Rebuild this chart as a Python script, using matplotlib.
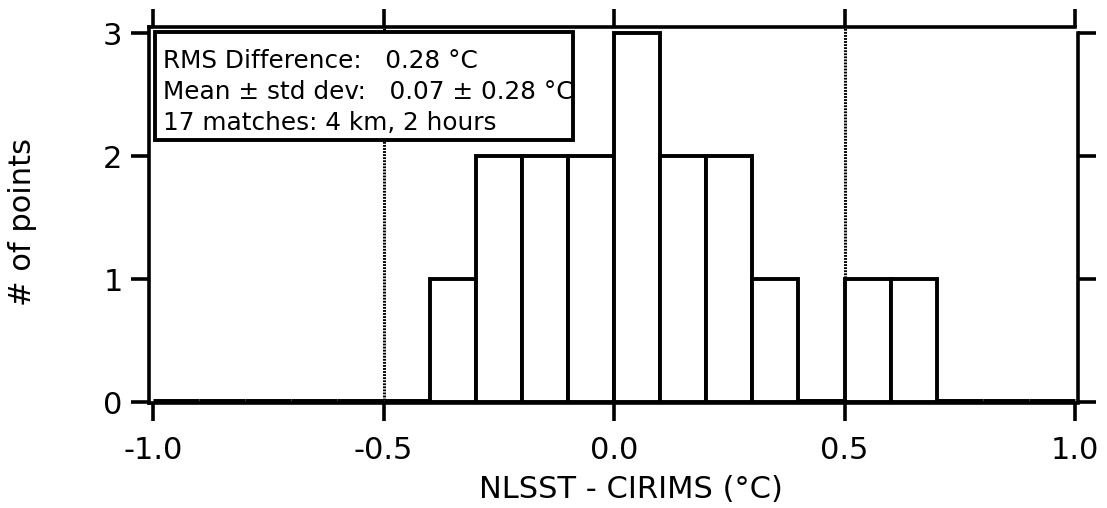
import numpy as np
import matplotlib.pyplot as plt
from matplotlib.patches import Rectangle

# histogram of NLSST - CIRIMS differences, 0.1 degC bins
bin_left = np.round(np.arange(-1.0, 1.0, 0.1), 2)
counts = [0, 0, 0, 0, 0, 0, 1, 2, 2, 2, 3, 2, 2, 1, 0, 1, 1, 0, 0, 0]
stats_lines = ['RMS Difference:   0.28 \u00b0C',
               'Mean \u00b1 std dev:   0.07 \u00b1 0.28 \u00b0C',
               '17 matches: 4 km, 2 hours']
xticks = [-1.0, -0.5, 0.0, 0.5, 1.0]
yticks = [0, 1, 2, 3]

plt.rcParams['font.family'] = 'DejaVu Sans'

fig = plt.figure(figsize=(11.07, 5.08), dpi=100)
ax = fig.add_axes([149/1107, 1 - 403/508, (1078 - 149)/1107, (403 - 27)/508])

lw = [5.0 if c == 0 else 2.8 for c in counts]
ax.bar(bin_left, counts, width=0.1, align='edge', facecolor='white',
       edgecolor='black', linewidth=lw, zorder=3)

for xv in [-0.5, 0.5]:
    ax.axvline(xv, color='black', lw=2.2, linestyle=(0, (0.6, 0.4)), zorder=2)

ax.set_xlim(-1.0087, 1.0065)
ax.set_ylim(-0.008, 3.05)
ax.set_xticks(xticks)
ax.set_xticklabels(['%.1f' % v for v in xticks])
ax.set_yticks(yticks)

for s in ax.spines.values():
    s.set_linewidth(2.6)
ax.spines['right'].set_bounds(0, 3.0)
ax.spines['top'].set_bounds(-1.0087, 1.0)

ax.tick_params(axis='both', direction='out', length=13, width=2.6,
               labelsize=22, top=True, right=True)
ax.tick_params(axis='x', pad=11)
ax.tick_params(axis='y', pad=6)

ax.set_xlabel('NLSST - CIRIMS (\u00b0C)', fontsize=22)
ax.xaxis.set_label_coords((631 - 149)/(1078 - 149), -(475 - 403)/376)
ax.set_ylabel('# of points', fontsize=22)
ax.yaxis.set_label_coords(-(149 - 37)/929, 0.481)

# stats box
ax.add_patch(Rectangle((-0.9957, 2.13), 0.9068, 0.878, facecolor='white',
                       edgecolor='none', zorder=4, clip_on=False))
for i, line in enumerate(stats_lines):
    ax.text(-0.978, 2.715 - i * 0.252, line, fontsize=17.8, va='baseline',
            ha='left', zorder=5)
ax.add_patch(Rectangle((-0.9957, 2.13), 0.9068, 0.878, facecolor='none',
                       edgecolor='black', lw=2.8, zorder=6, clip_on=False))

fig.savefig('out.png', dpi=100)
